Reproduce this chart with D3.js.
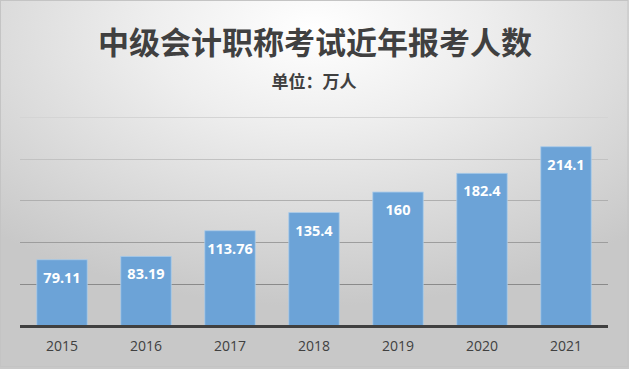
<!DOCTYPE html>
<html><head><meta charset="utf-8">
<script src="https://cdn.jsdelivr.net/npm/d3@7/dist/d3.min.js"></script>
<style>html,body{margin:0;padding:0;background:#fff;}svg{display:block;}</style>
</head><body>
<script>
const years = ["2015","2016","2017","2018","2019","2020","2021"];
const values = [79.11, 83.19, 113.76, 135.4, 160, 182.4, 214.1];
const valueLabels = ["79.11","83.19","113.76","135.4","160","182.4","214.1"];
const yTicks = [0, 50, 100, 150, 200, 250];
const title = "中级会计职称考试近年报考人数";
const subtitle = "单位：万人";

(function(){
const W = 629, H = 369;
const svg = d3.select("body").append("svg").attr("width", W).attr("height", H);
const defs = svg.append("defs");
const grad = defs.append("radialGradient").attr("id","bg")
  .attr("cx","50%").attr("cy","8%").attr("r","75%")
  .attr("gradientUnits","objectBoundingBox");
grad.append("stop").attr("offset","0%").attr("stop-color","#ffffff");
grad.append("stop").attr("offset","35%").attr("stop-color","#eeeeee");
grad.append("stop").attr("offset","100%").attr("stop-color","#c8c8c8");
svg.append("rect").attr("x",0).attr("y",0).attr("width",W).attr("height",H).attr("fill","url(#bg)");
svg.append("rect").attr("x",0.5).attr("y",0.5).attr("width",W-1.5).attr("height",H-3)
  .attr("fill","none").attr("stroke","#c4c4c4");

const mLeft = 20, mRight = 608, mTop = 116.7, mBottom = 326;
const x = d3.scaleBand().domain(years).range([mLeft, mRight]).paddingInner(0.4).paddingOuter(0.2);
const y = d3.scaleLinear().domain([0, 250]).range([mBottom, mTop]);

const gridColor = d3.scaleLinear().domain([50, 250]).range(["#8a8a8a", "#d4d4d4"]);
svg.append("g").selectAll("line").data(yTicks.filter(d => d > 0)).join("line")
  .attr("x1", mLeft).attr("x2", mRight)
  .attr("y1", d => Math.round(y(d)) + 0.5).attr("y2", d => Math.round(y(d)) + 0.5)
  .attr("stroke", d => gridColor(d)).attr("stroke-width", 1);

svg.append("g").selectAll("rect").data(values).join("rect")
  .attr("x", (d,i) => x(years[i]))
  .attr("y", d => y(d))
  .attr("width", x.bandwidth())
  .attr("height", d => y(0) - y(d))
  .attr("fill", "#6ca3d7")
  .attr("stroke", "#a9cbea").attr("stroke-width", 0.8);

const xAxis = svg.append("g").attr("transform", `translate(0,${mBottom})`)
  .call(d3.axisBottom(x).tickSize(0).tickPadding(15));
xAxis.select(".domain").remove();
xAxis.selectAll("text").attr("font-family","'Open Sans','Liberation Sans',sans-serif")
  .attr("font-size","14px").attr("fill","#404040");

svg.append("line").attr("x1", mLeft).attr("x2", mRight)
  .attr("y1", y(0)+0.5).attr("y2", y(0)+0.5)
  .attr("stroke", "#404040").attr("stroke-width", 3);

svg.append("g").selectAll("text").data(values).join("text")
  .attr("x", (d,i) => x(years[i]) + x.bandwidth()/2)
  .attr("y", d => y(d) + 23)
  .attr("text-anchor","middle")
  .attr("font-family","'Open Sans','Liberation Sans',sans-serif")
  .attr("font-weight","bold").attr("font-size","14.5px").attr("fill","#ffffff")
  .text((d,i) => valueLabels[i]);

svg.append("text").attr("x", 315).attr("y", 54).attr("text-anchor","middle")
  .attr("font-family","'Noto Sans CJK SC',sans-serif").attr("font-weight","bold")
  .attr("font-size","31px").attr("fill","#404040").text(title);
svg.append("text").attr("x", 314).attr("y", 88).attr("text-anchor","middle")
  .attr("font-family","'Noto Sans CJK SC',sans-serif").attr("font-weight","bold")
  .attr("font-size","17px").attr("fill","#404040").text(subtitle);
})();
</script>
</body></html>
